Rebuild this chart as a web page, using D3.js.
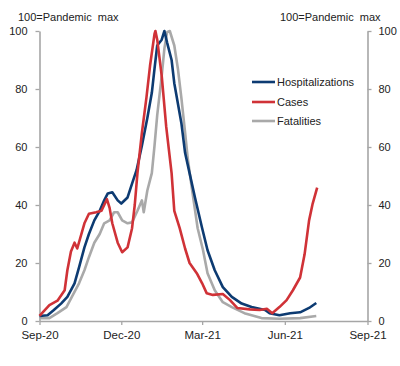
<!DOCTYPE html>
<html>
<head>
<meta charset="utf-8">
<script src="https://cdn.jsdelivr.net/npm/d3@7"></script>
<style>
  html, body { margin: 0; padding: 0; background: #fff; }
  svg { display: block; }
  text { font-family: "Liberation Sans", Arial, sans-serif; fill: #222; }
</style>
</head>
<body>
<svg id="chart" width="400" height="366"></svg>
<script>
// ---- Data (100 = pandemic max) ----
const seriesNames = ["Hospitalizations", "Cases", "Fatalities"];
const seriesColors = ["#0d3b72", "#d03237", "#a9a9a9"];

const hospDates = ["2020-09-01","2020-09-10","2020-09-17","2020-09-25","2020-10-02","2020-10-10","2020-10-15","2020-10-21","2020-10-26","2020-11-01","2020-11-07","2020-11-12","2020-11-16","2020-11-21","2020-11-27","2020-12-01","2020-12-08","2020-12-13","2020-12-18","2020-12-24","2020-12-30","2021-01-04","2021-01-07","2021-01-10","2021-01-15","2021-01-18","2021-01-21","2021-01-26","2021-01-29","2021-02-02","2021-02-06","2021-02-10","2021-02-15","2021-02-21","2021-03-01","2021-03-07","2021-03-15","2021-03-24","2021-04-03","2021-04-14","2021-04-25","2021-05-10","2021-05-15","2021-05-26","2021-06-07","2021-06-18","2021-06-28","2021-07-06"];
const hospValues = [1.7,2,3.8,6,8.3,13,18.5,25.4,30,34.7,38,41.6,44,44.4,41.6,40.5,42.6,47.4,52,60.5,70,78.7,87,95,97,100,96,90,82,75,68,58,51,42.6,32,24.4,17.5,11.7,8.3,6,4.8,3.8,2.7,2,2.7,3,4.5,6.2];

const caseDates = ["2020-09-01","2020-09-12","2020-09-21","2020-09-29","2020-10-02","2020-10-06","2020-10-10","2020-10-13","2020-10-21","2020-10-26","2020-11-03","2020-11-09","2020-11-15","2020-11-18","2020-11-21","2020-11-27","2020-12-02","2020-12-08","2020-12-13","2020-12-16","2020-12-19","2020-12-24","2020-12-29","2021-01-02","2021-01-07","2021-01-08","2021-01-10","2021-01-15","2021-01-20","2021-01-23","2021-01-26","2021-01-29","2021-02-04","2021-02-10","2021-02-15","2021-02-23","2021-03-01","2021-03-06","2021-03-13","2021-03-24","2021-04-01","2021-04-09","2021-04-23","2021-05-04","2021-05-12","2021-05-18","2021-05-26","2021-06-03","2021-06-10","2021-06-18","2021-06-23","2021-06-28","2021-07-02","2021-07-07"];
const caseValues = [1.8,5.5,7,10.6,17.5,24,27,25,33.7,37,37.5,38,42,39,33.7,27,23.7,25.4,32,40,51,65,77,88,99,100,97,84.5,67,59,51,38,32,25,20,16.5,13,9.6,9,9.3,7.2,4.5,4,3.8,4.2,2.7,4.8,7.2,10.6,15,23,34.7,40.5,46];

const fatalDates = ["2020-09-01","2020-09-12","2020-09-21","2020-10-01","2020-10-07","2020-10-15","2020-10-21","2020-10-26","2020-11-01","2020-11-07","2020-11-12","2020-11-18","2020-11-23","2020-11-27","2020-12-02","2020-12-08","2020-12-13","2020-12-19","2020-12-24","2020-12-26","2020-12-30","2021-01-04","2021-01-07","2021-01-10","2021-01-15","2021-01-18","2021-01-21","2021-01-24","2021-01-29","2021-02-02","2021-02-06","2021-02-10","2021-02-13","2021-02-17","2021-02-24","2021-03-02","2021-03-07","2021-03-15","2021-03-24","2021-04-03","2021-04-17","2021-05-06","2021-05-26","2021-06-18","2021-07-06"];
const fatalValues = [1,1,2.7,4.8,8.3,13,17.5,22,27,30,33.7,34.7,37.5,37.5,34.7,33.7,34,38,41.6,37.5,45,51,60.5,71,84.5,94,99.6,100,95,87,76.6,65,56,47,32,24.4,16.5,10.6,6.5,4.8,2.7,1,0.8,1,1.7];

const yTicks = [0, 20, 40, 60, 80, 100];
const xTickDates = ["2020-09-01","2020-12-01","2021-03-01","2021-06-01","2021-09-01"];
const xTickLabels = ["Sep-20","Dec-20","Mar-21","Jun-21","Sep-21"];
const axisTitle = "100=Pandemic\u00a0 max";

// ---- Layout ----
const parse = d3.timeParse("%Y-%m-%d");
const mLeft = 39.5, mRight = 367.5, mTop = 31, mBottom = 321;
const svg = d3.select("#chart");

const x = d3.scaleTime()
  .domain([parse(xTickDates[0]), parse(xTickDates[xTickDates.length - 1])])
  .range([mLeft, mRight]);
const y = d3.scaleLinear().domain([0, 100]).range([mBottom, mTop]);

const axisColor = "#a6a6a6";

const gl = svg.append("g").attr("transform", `translate(${mLeft},0)`)
  .call(d3.axisLeft(y).tickValues(yTicks).tickSize(4).tickPadding(8).tickSizeOuter(0));
const gr = svg.append("g").attr("transform", `translate(${mRight},0)`)
  .call(d3.axisRight(y).tickValues(yTicks).tickSize(4).tickPadding(7).tickSizeOuter(0));
const gb = svg.append("g").attr("transform", `translate(0,${mBottom})`)
  .call(d3.axisBottom(x).tickValues(xTickDates.map(parse))
    .tickFormat((d, i) => xTickLabels[i]).tickSize(4).tickPadding(6).tickSizeOuter(0));

[gl, gr, gb].forEach(g => {
  g.select(".domain").attr("stroke", axisColor).attr("stroke-width", 1.6);
  g.selectAll(".tick line").attr("stroke", axisColor).attr("stroke-width", 1.3);
  g.selectAll(".tick text").attr("fill", "#222")
    .style("font-family", "'Liberation Sans', Arial, sans-serif");
});
gl.selectAll(".tick text").style("font-size", "11px");
gr.selectAll(".tick text").style("font-size", "11px");
gb.selectAll(".tick text").style("font-size", "11.5px");

svg.append("text").attr("x", 18).attr("y", 21).style("font-size", "11px").text(axisTitle);
svg.append("text").attr("x", 280).attr("y", 21).style("font-size", "11px").text(axisTitle);

// ---- Lines ----
const line = d3.line().x(d => x(d.date)).y(d => y(d.value));
function build(dates, values) {
  return dates.map((d, i) => ({ date: parse(d), value: values[i] }));
}
const series = [
  { name: seriesNames[2], color: seriesColors[2], data: build(fatalDates, fatalValues) },
  { name: seriesNames[0], color: seriesColors[0], data: build(hospDates, hospValues) },
  { name: seriesNames[1], color: seriesColors[1], data: build(caseDates, caseValues) }
];
svg.append("g").selectAll("path").data(series).join("path")
  .attr("d", s => line(s.data))
  .attr("fill", "none")
  .attr("stroke", s => s.color)
  .attr("stroke-width", 2.6)
  .attr("stroke-linejoin", "round");

// ---- Legend ----
const legY = [82, 102, 121];
const leg = svg.append("g");
seriesNames.forEach((n, i) => {
  leg.append("line").attr("x1", 252).attr("x2", 275).attr("y1", legY[i]).attr("y2", legY[i])
    .attr("stroke", seriesColors[i]).attr("stroke-width", 2.6);
  leg.append("text").attr("x", 277).attr("y", legY[i] + 4).style("font-size", "11px").text(n);
});
</script>
</body>
</html>
